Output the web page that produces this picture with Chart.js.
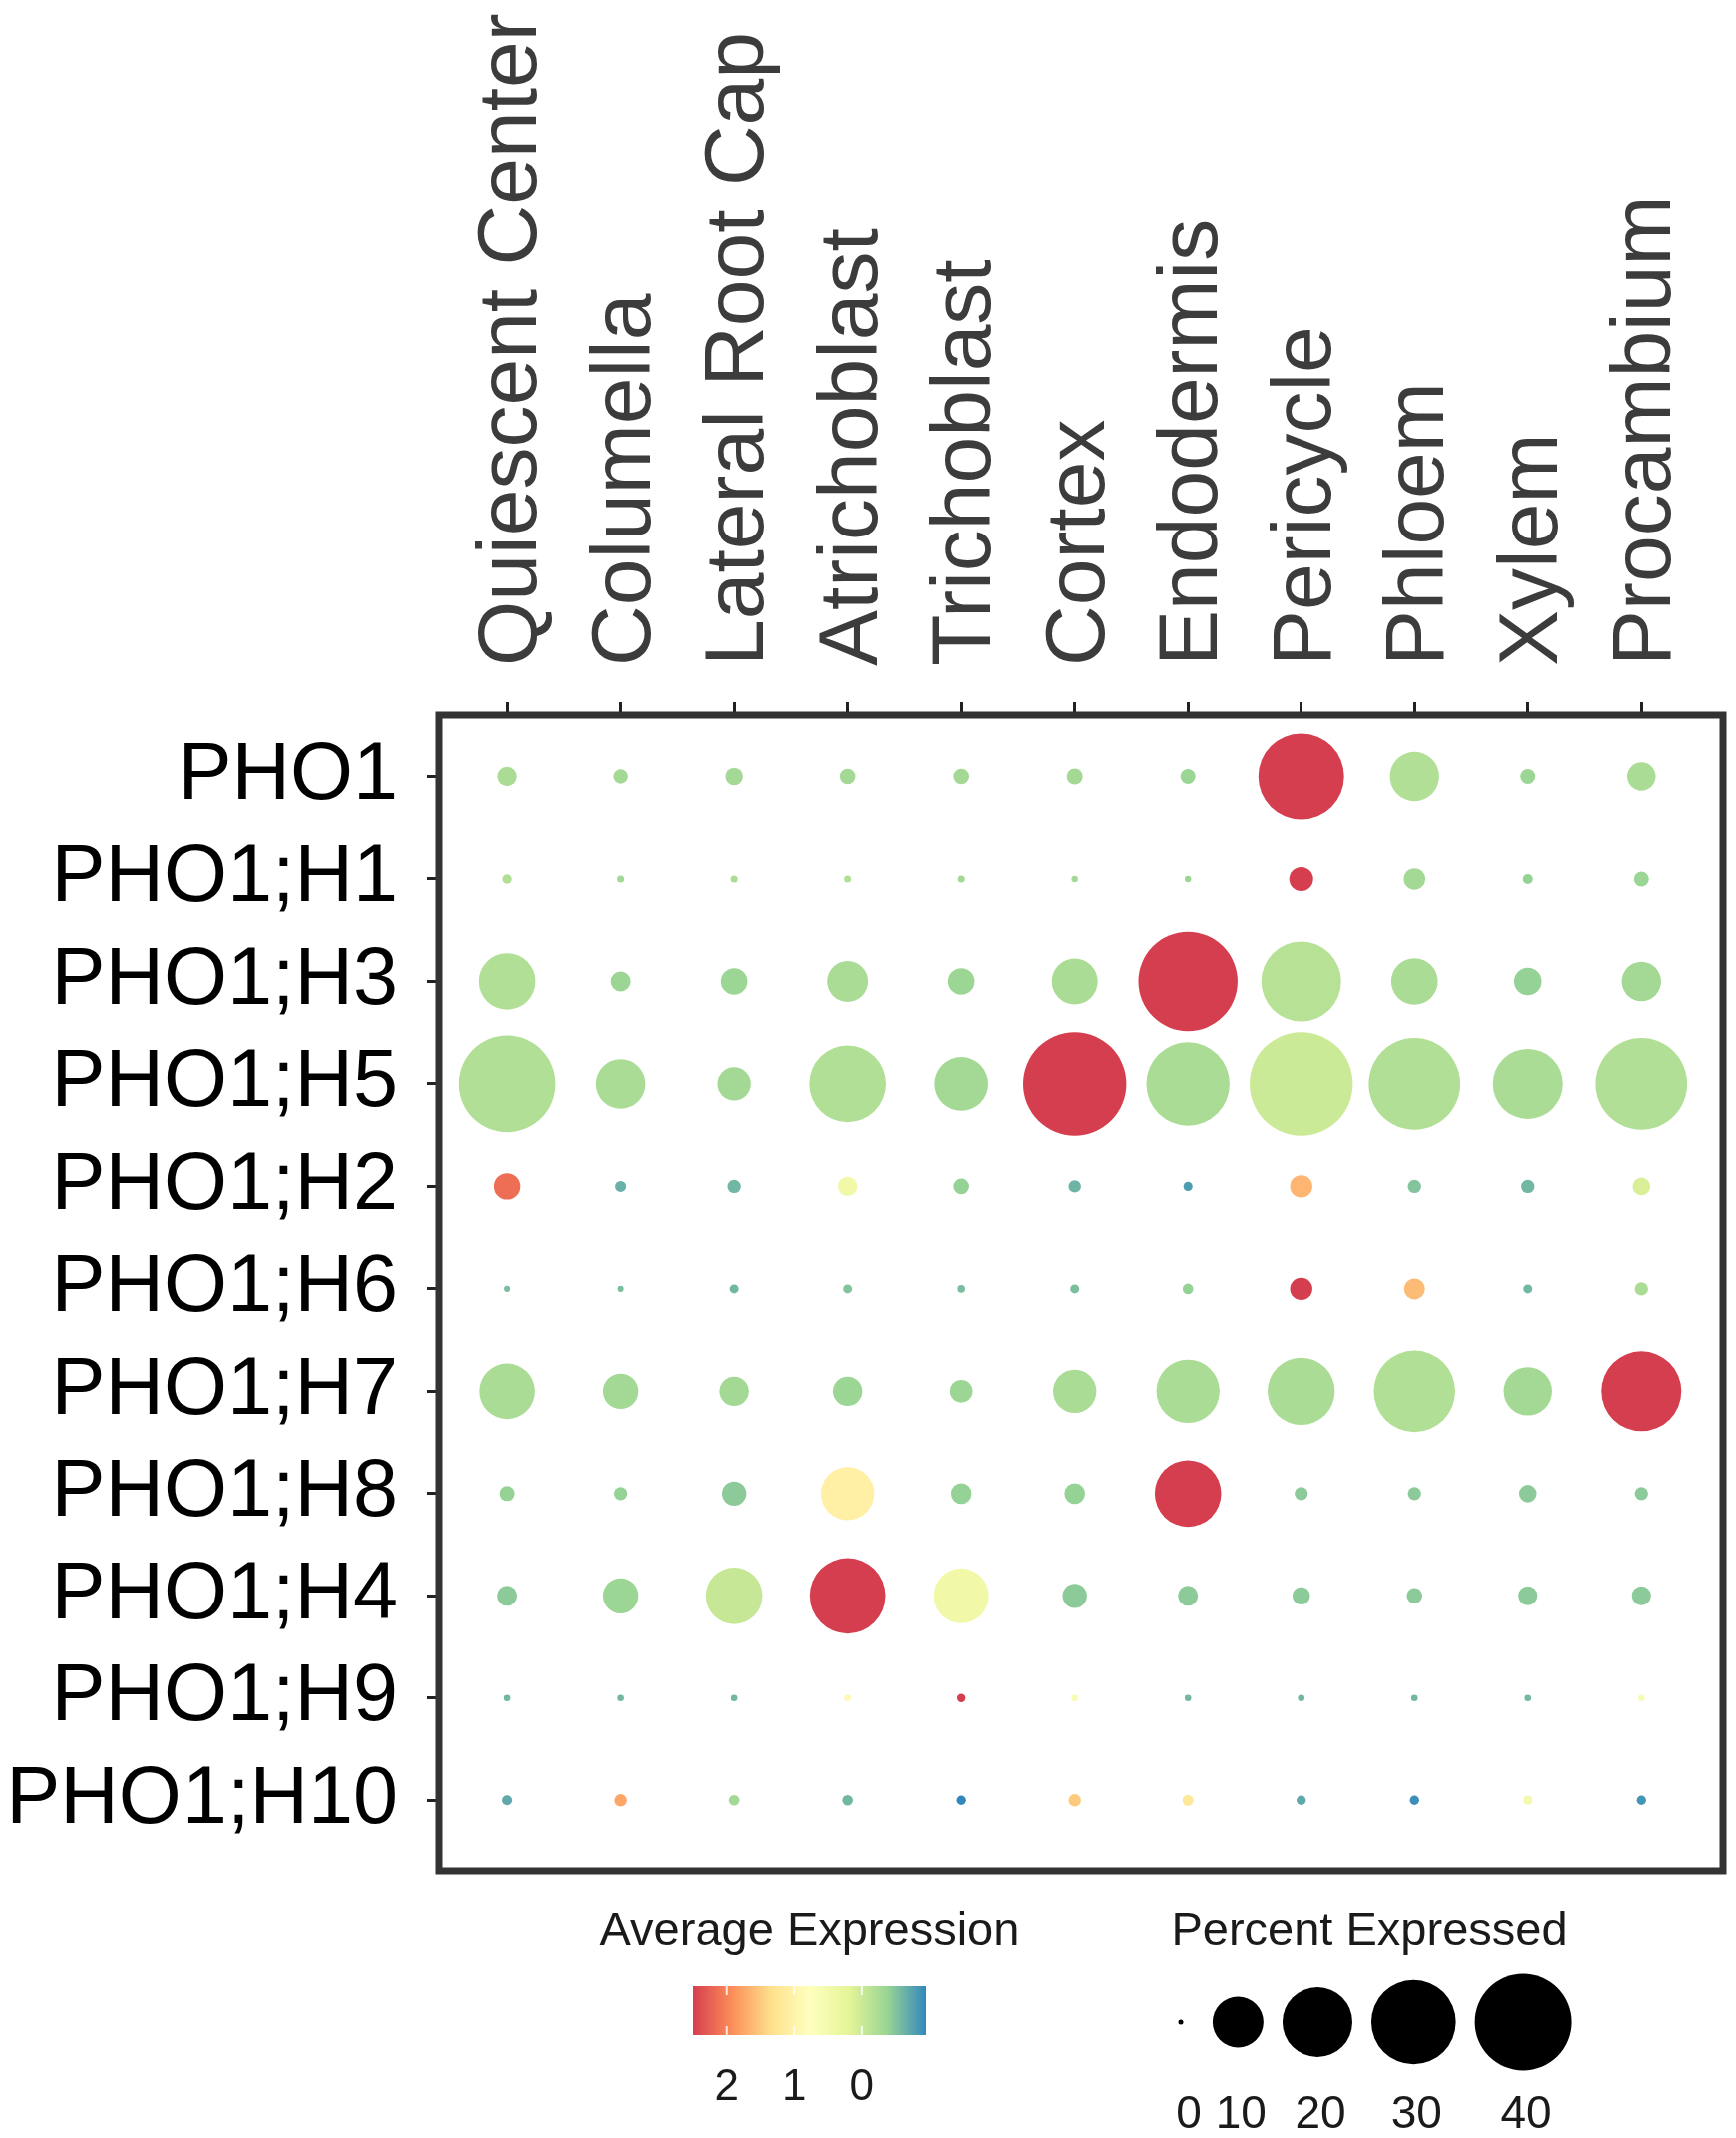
<!DOCTYPE html>
<html>
<head>
<meta charset="utf-8">
<title>PHO1 family dot plot</title>
<script src="https://cdn.jsdelivr.net/npm/chart.js@4.4.1/dist/chart.umd.min.js"></script>
<style>
  html, body { margin: 0; padding: 0; background: #fff; }
  #wrap { width: 1738px; height: 2140px; position: relative; }
</style>
</head>
<body>
<div id="wrap"><canvas id="dotPlot"></canvas></div>
<script>
// Cell types (columns) and genes (rows)
const cellTypes = ['Quiescent Center', 'Columella', 'Lateral Root Cap', 'Atrichoblast', 'Trichoblast',
    'Cortex', 'Endodermis', 'Pericycle', 'Phloem', 'Xylem', 'Procambium'];
const genes = ['PHO1', 'PHO1;H1', 'PHO1;H3', 'PHO1;H5', 'PHO1;H2', 'PHO1;H6',
    'PHO1;H7', 'PHO1;H8', 'PHO1;H4', 'PHO1;H9', 'PHO1;H10'];

// Percent of cells expressing, one row per gene (same order as cellTypes)
const pctExpressed = [
    [0.98, 0.42, 0.73, 0.53, 0.53, 0.57, 0.47, 31.0, 9.3, 0.47, 2.6],
    [0.09, 0.02, 0.02, 0.02, 0.02, 0.01, 0.01, 1.71, 1.30, 0.12, 0.47],
    [12.6, 1.06, 2.2, 6.1, 2.2, 7.95, 42.2, 26.6, 8.2, 2.4, 5.6],
    [39.7, 9.4, 3.8, 24.3, 11.2, 45.8, 29.1, 45.8, 35.5, 20.0, 35.5],
    [2.17, 0.17, 0.33, 0.98, 0.53, 0.26, 0.08, 1.43, 0.33, 0.33, 0.75],
    [0.005, 0.005, 0.076, 0.076, 0.032, 0.076, 0.15, 1.43, 1.21, 0.076, 0.33],
    [12.1, 4.37, 2.82, 2.82, 1.47, 6.97, 16.1, 18.4, 27.75, 8.91, 26.6],
    [0.47, 0.33, 1.78, 11.1, 1.15, 1.15, 17.95, 0.33, 0.33, 0.75, 0.33],
    [1.06, 4.37, 12.6, 23.6, 11.8, 1.78, 1.06, 0.75, 0.53, 0.93, 0.93],
    [0.012, 0.012, 0.012, 0.012, 0.055, 0.012, 0.012, 0.012, 0.012, 0.012, 0.012],
    [0.12, 0.26, 0.15, 0.15, 0.09, 0.26, 0.17, 0.09, 0.09, 0.09, 0.09]
];

// Scaled average expression, one row per gene
const avgExpression = [
    [-0.25, -0.3, -0.3, -0.3, -0.3, -0.3, -0.35, 2.5, -0.2, -0.35, -0.25],
    [-0.2, -0.3, -0.25, -0.2, -0.3, -0.3, -0.35, 2.5, -0.3, -0.4, -0.35],
    [-0.2, -0.35, -0.35, -0.25, -0.35, -0.25, 2.5, -0.15, -0.25, -0.4, -0.3],
    [-0.2, -0.25, -0.3, -0.2, -0.3, 2.5, -0.25, 0.0, -0.2, -0.25, -0.2],
    [2.15, -0.65, -0.6, 0.45, -0.4, -0.62, -0.8, 1.65, -0.5, -0.6, 0.1],
    [-0.55, -0.55, -0.6, -0.5, -0.55, -0.55, -0.4, 2.5, 1.6, -0.6, -0.25],
    [-0.25, -0.3, -0.3, -0.35, -0.35, -0.25, -0.25, -0.25, -0.2, -0.3, 2.5],
    [-0.4, -0.4, -0.45, 1.05, -0.4, -0.4, 2.5, -0.45, -0.45, -0.45, -0.45],
    [-0.45, -0.35, -0.05, 2.5, 0.45, -0.45, -0.45, -0.45, -0.45, -0.45, -0.45],
    [-0.6, -0.6, -0.6, 0.9, 2.5, 0.6, -0.6, -0.6, -0.6, -0.6, 0.6],
    [-0.7, 1.75, -0.3, -0.6, -0.95, 1.5, 1.2, -0.7, -0.9, 0.5, -0.85]
];

// Legend values
const colorbarTicks = [2, 1, 0];
const colorRange = [-0.95, 2.5];
const sizeLegendValues = [0, 10, 20, 30, 40];

// Spectral palette, high values red -> low values blue
const spectral = ['#D53E4F', '#FC8D59', '#FEE08B', '#FFFFBF', '#E6F598', '#99D594', '#3288BD'];
const FONT = "'Liberation Sans', Arial, Helvetica, sans-serif";
const X_LABEL_SIZE = 84;
const X_LABEL_LINE = 1.2;

function hexToRgb(hex) {
    const n = parseInt(hex.slice(1), 16);
    return [(n >> 16) & 255, (n >> 8) & 255, n & 255];
}

// Map an expression value to a colour on the palette
function colorFor(value) {
    let t = (colorRange[1] - value) / (colorRange[1] - colorRange[0]);
    t = Math.max(0, Math.min(1, t));
    const pos = t * (spectral.length - 1);
    const i = Math.min(Math.floor(pos), spectral.length - 2);
    const f = pos - i;
    const a = hexToRgb(spectral[i]);
    const b = hexToRgb(spectral[i + 1]);
    const c = a.map((v, k) => Math.round(v + (b[k] - v) * f));
    return `rgb(${c[0]},${c[1]},${c[2]})`;
}

// Dot radius (px) from percent expressed, area-like scaling
function radiusFor(pct) {
    return 2.5 + 7.27 * Math.sqrt(pct);
}

// Build points
const points = [];
const colors = [];
genes.forEach((gene, gi) => {
    cellTypes.forEach((cell, ci) => {
        points.push({ x: ci, y: gi, r: radiusFor(pctExpressed[gi][ci]) });
        colors.push(colorFor(avgExpression[gi][ci]));
    });
});

// Frame around the plot and the two legends below it
const frameAndLegends = {
    id: 'frameAndLegends',
    afterDraw(chart) {
        const ctx = chart.ctx;
        const area = chart.chartArea;
        ctx.save();

        // frame
        ctx.strokeStyle = '#333';
        ctx.lineWidth = 7;
        ctx.strokeRect(area.left, area.top, area.right - area.left, area.bottom - area.top);

        // colour bar legend
        const bar = { left: 694, top: 1988, width: 233, height: 49 };
        const grad = ctx.createLinearGradient(bar.left, 0, bar.left + bar.width, 0);
        spectral.forEach((c, i) => grad.addColorStop(i / (spectral.length - 1), c));
        ctx.fillStyle = grad;
        ctx.fillRect(bar.left, bar.top, bar.width, bar.height);

        ctx.fillStyle = '#1a1a1a';
        ctx.textAlign = 'center';
        ctx.textBaseline = 'alphabetic';
        ctx.font = `47px ${FONT}`;
        ctx.fillText('Average Expression', bar.left + bar.width / 2, 1947);

        ctx.font = `44px ${FONT}`;
        colorbarTicks.forEach(v => {
            const x = bar.left + (colorRange[1] - v) / (colorRange[1] - colorRange[0]) * bar.width;
            ctx.strokeStyle = 'rgba(255,255,255,0.8)';
            ctx.lineWidth = 2;
            ctx.beginPath();
            ctx.moveTo(x, bar.top); ctx.lineTo(x, bar.top + 9);
            ctx.moveTo(x, bar.top + bar.height - 9); ctx.lineTo(x, bar.top + bar.height);
            ctx.stroke();
            ctx.fillStyle = '#1a1a1a';
            ctx.fillText(String(v), x, 2102);
        });

        // size legend
        ctx.font = `47px ${FONT}`;
        ctx.fillText('Percent Expressed', 1371, 1947);
        ctx.font = `46px ${FONT}`;
        const keyY = 2024;
        let x = 1182;
        let prevW = 0;
        sizeLegendValues.forEach((v, i) => {
            const r = radiusFor(v);
            const w = Math.max(2 * r, ctx.measureText(String(v)).width);
            if (i > 0) x += prevW / 2 + w / 2 + 19;
            prevW = w;
            ctx.fillStyle = '#000';
            ctx.beginPath();
            ctx.arc(x, keyY, r, 0, Math.PI * 2);
            ctx.fill();
            ctx.fillStyle = '#1a1a1a';
            ctx.fillText(String(v), x + (i === 0 ? 8 : 3), 2130);
        });

        ctx.restore();
    }
};

Chart.defaults.font.family = FONT;

new Chart(document.getElementById('dotPlot'), {
    type: 'bubble',
    data: {
        datasets: [{
            data: points,
            backgroundColor: colors,
            borderWidth: 0,
            hoverBorderWidth: 0
        }]
    },
    options: {
        responsive: true,
        maintainAspectRatio: false,
        animation: false,
        events: [],
        layout: { autoPadding: false, padding: { left: 0, top: 0, right: 13, bottom: 267 } },
        plugins: {
            legend: { display: false },
            tooltip: { enabled: false }
        },
        scales: {
            x: {
                type: 'linear',
                position: 'top',
                min: -0.6,
                max: 10.72,
                afterBuildTicks: scale => { scale.ticks = cellTypes.map((_, i) => ({ value: i })); },
                afterFit: scale => {
                    scale.height = 716;
                    scale.paddingLeft = 0;
                    scale.paddingRight = 0;
                },
                border: { display: false },
                grid: { drawOnChartArea: false, drawTicks: true, tickLength: 13, color: '#222', lineWidth: 3 },
                ticks: {
                    autoSkip: false,
                    minRotation: 90,
                    maxRotation: 90,
                    padding: 36,
                    // rotated labels on a top axis sit one line-height to the left; shift them back
                    labelOffset: X_LABEL_SIZE * X_LABEL_LINE + 6,
                    color: '#3c3c3c',
                    font: { size: X_LABEL_SIZE, lineHeight: X_LABEL_LINE },
                    callback: value => cellTypes[value]
                }
            },
            y: {
                type: 'linear',
                reverse: true,
                min: -0.6,
                max: 10.69,
                afterBuildTicks: scale => { scale.ticks = genes.map((_, i) => ({ value: i })); },
                afterFit: scale => {
                    scale.width = 440;
                    scale.paddingTop = 0;
                    scale.paddingBottom = 0;
                },
                border: { display: false },
                grid: { drawOnChartArea: false, drawTicks: true, tickLength: 13, color: '#222', lineWidth: 3 },
                ticks: {
                    autoSkip: false,
                    padding: 29,
                    color: '#000',
                    font: { size: 81 },
                    callback: value => genes[value]
                }
            }
        }
    },
    plugins: [frameAndLegends]
});
</script>
</body>
</html>
